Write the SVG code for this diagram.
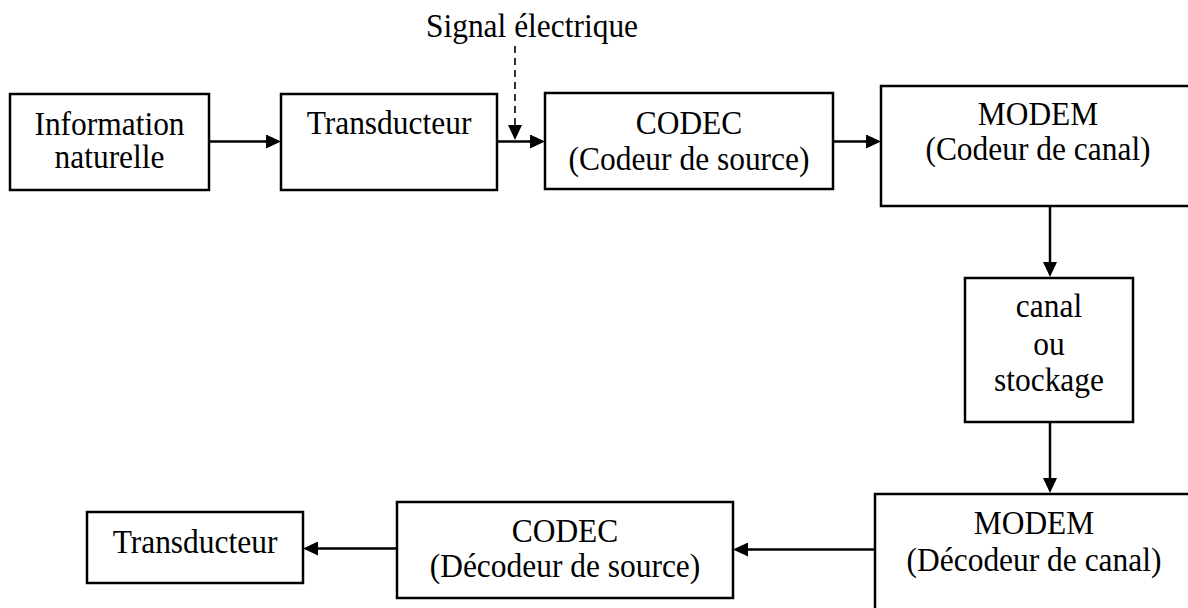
<svg xmlns="http://www.w3.org/2000/svg" width="1188" height="608" viewBox="0 0 1188 608">
  <defs>
    <style>
      .box { fill: #ffffff; stroke: #000000; stroke-width: 2.5; }
      .lbl { font-family: "Liberation Serif", "Times New Roman", serif; font-size: 34px; fill: #000000; text-anchor: middle; }
      .link { fill: none; stroke: #000000; stroke-width: 2.5; marker-end: url(#head); }
      .dash { fill: none; stroke: #000000; stroke-width: 1.6; stroke-dasharray: 7 5; marker-end: url(#head); }
    </style>
    <!-- filled triangular arrowhead; tip sits 13px beyond the line end -->
    <marker id="head" viewBox="0 0 15 14" refX="2" refY="7" markerWidth="15" markerHeight="14" markerUnits="userSpaceOnUse" orient="auto">
      <path d="M0,0 L15,7 L0,14 z" fill="#000000"/>
    </marker>
  </defs>

  <rect width="1188" height="608" fill="#ffffff"/>

  <!-- connectors -->
  <g id="connectors">
    <line class="link" x1="209" y1="141.5" x2="268" y2="141.5"/>
    <line class="link" x1="497" y1="141.5" x2="532" y2="141.5"/>
    <line class="dash" x1="515" y1="46" x2="515" y2="127"/>
    <line class="link" x1="833" y1="141.5" x2="868" y2="141.5"/>
    <line class="link" x1="1050" y1="206" x2="1050" y2="264"/>
    <line class="link" x1="1050" y1="422" x2="1050" y2="480"/>
    <line class="link" x1="875" y1="549.5" x2="746" y2="549.5"/>
    <line class="link" x1="397" y1="548.5" x2="316" y2="548.5"/>
  </g>

  <!-- labels use a slightly narrowed serif: translate to the centre, then squeeze x -->
  <g id="signal-label">
    <text class="lbl" transform="translate(532 0) scale(0.925 1)" x="0" y="37">Signal électrique</text>
  </g>

  <g id="information-naturelle">
    <rect class="box" x="10" y="94" width="199" height="96"/>
    <text class="lbl" transform="translate(109.5 0) scale(0.925 1)" x="0" y="135">Information</text>
    <text class="lbl" transform="translate(109.5 0) scale(0.925 1)" x="0" y="168">naturelle</text>
  </g>

  <g id="transducteur-entree">
    <rect class="box" x="281" y="94" width="216" height="96"/>
    <text class="lbl" transform="translate(389 0) scale(0.925 1)" x="0" y="134">Transducteur</text>
  </g>

  <g id="codec-codeur">
    <rect class="box" x="545" y="93" width="288" height="96"/>
    <text class="lbl" transform="translate(689 0) scale(0.925 1)" x="0" y="134">CODEC</text>
    <text class="lbl" transform="translate(689 0) scale(0.925 1)" x="0" y="170">(Codeur de source)</text>
  </g>

  <g id="modem-codeur">
    <rect class="box" x="881" y="86" width="314" height="120"/>
    <text class="lbl" transform="translate(1038 0) scale(0.925 1)" x="0" y="125">MODEM</text>
    <text class="lbl" transform="translate(1038 0) scale(0.925 1)" x="0" y="160">(Codeur de canal)</text>
  </g>

  <g id="canal-stockage">
    <rect class="box" x="965" y="278" width="168" height="144"/>
    <text class="lbl" transform="translate(1049 0) scale(0.925 1)" x="0" y="317">canal</text>
    <text class="lbl" transform="translate(1049 0) scale(0.925 1)" x="0" y="355">ou</text>
    <text class="lbl" transform="translate(1049 0) scale(0.925 1)" x="0" y="391">stockage</text>
  </g>

  <g id="modem-decodeur">
    <rect class="box" x="875" y="494" width="320" height="130"/>
    <text class="lbl" transform="translate(1034 0) scale(0.925 1)" x="0" y="534">MODEM</text>
    <text class="lbl" transform="translate(1034 0) scale(0.925 1)" x="0" y="571">(Décodeur de canal)</text>
  </g>

  <g id="codec-decodeur">
    <rect class="box" x="397" y="502" width="336" height="96"/>
    <text class="lbl" transform="translate(565 0) scale(0.925 1)" x="0" y="542">CODEC</text>
    <text class="lbl" transform="translate(565 0) scale(0.925 1)" x="0" y="577">(Décodeur de source)</text>
  </g>

  <g id="transducteur-sortie">
    <rect class="box" x="87" y="512" width="216" height="71"/>
    <text class="lbl" transform="translate(195 0) scale(0.925 1)" x="0" y="553">Transducteur</text>
  </g>
</svg>
